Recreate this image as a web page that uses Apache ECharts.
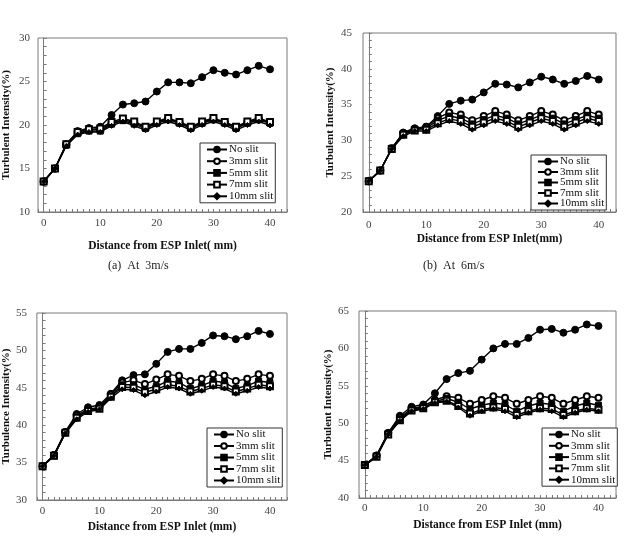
<!DOCTYPE html>
<html><head><meta charset="utf-8">
<script src="https://cdn.jsdelivr.net/npm/echarts@6/dist/echarts.min.js"></script>
<style>html,body{margin:0;padding:0;background:#fff}#c{width:625px;height:548px}</style>
</head><body><div id="c"></div>
<script>
// ---------- DATA ----------
const distance = [0,2,4,6,8,10,12,14,16,18,20,22,24,26,28,30,32,34,36,38,40];
const seriesNames = ['No slit','3mm slit','5mm slit','7mm slit','10mm slit'];
const xTickLabels = [0,10,20,30,40];

// (a) At 3 m/s
const a_noSlit = [13.5,15.0,17.8,19.3,19.65,19.8,21.15,22.35,22.5,22.7,23.85,24.9,24.9,24.8,25.5,26.3,26.0,25.8,26.3,26.8,26.4];
const a_slit3  = [13.5,15.0,17.7,19.1,19.4,19.5,20.2,20.6,20.3,19.7,20.3,20.7,20.3,19.7,20.3,20.7,20.3,19.7,20.3,20.7,20.3];
const a_slit5  = [13.5,15.0,17.7,19.0,19.3,19.3,20.1,20.5,20.1,19.6,20.2,20.6,20.2,19.6,20.2,20.6,20.2,19.6,20.2,20.6,20.2];
const a_slit7  = [13.5,15.0,17.8,19.2,19.5,19.6,20.35,20.75,20.4,19.8,20.4,20.8,20.35,19.8,20.4,20.8,20.35,19.8,20.4,20.8,20.35];
const a_slit10 = [13.5,15.0,17.6,18.9,19.2,19.2,19.9,20.4,19.9,19.4,20.0,20.4,20.0,19.4,20.0,20.4,20.0,19.4,20.0,20.4,19.95];

// (b) At 6 m/s
const b_noSlit = [24.3,25.8,28.85,31.1,31.7,31.9,33.4,35.1,35.55,35.7,36.7,37.9,37.8,37.4,38.1,38.9,38.5,37.9,38.3,39.0,38.5];
const b_slit3  = [24.3,25.8,28.9,31.0,31.6,31.9,33.1,33.9,33.6,32.8,33.4,34.1,33.6,32.8,33.4,34.1,33.6,32.8,33.4,34.1,33.6];
const b_slit5  = [24.3,25.8,28.9,30.9,31.5,31.7,32.8,33.4,33.1,32.3,32.9,33.5,33.1,32.3,32.9,33.5,33.1,32.3,32.9,33.5,33.1];
const b_slit7  = [24.3,25.8,28.8,30.8,31.4,31.5,32.4,33.0,32.7,31.9,32.5,33.1,32.7,31.9,32.5,33.1,32.7,31.9,32.5,33.1,32.7];
const b_slit10 = [24.3,25.8,28.8,30.6,31.3,31.3,32.1,32.7,32.3,31.5,32.1,32.7,32.3,31.5,32.1,32.7,32.3,31.5,32.1,32.7,32.3];

// (c)
const c_noSlit = [34.5,36.0,39.1,41.5,42.4,42.7,44.2,46.0,46.7,46.8,48.2,49.8,50.2,50.2,51.0,52.0,51.9,51.5,51.9,52.6,52.2];
const c_slit3  = [34.5,36.0,39.1,41.3,42.1,42.4,44.1,45.7,46.0,45.5,46.1,46.8,46.6,45.9,46.2,46.8,46.6,45.9,46.2,46.8,46.6];
const c_slit5  = [34.5,35.9,39.0,41.1,42.0,42.3,43.9,45.4,45.4,44.8,45.2,45.9,45.7,44.9,45.3,45.9,45.7,44.9,45.3,45.9,45.7];
const c_slit7  = [34.5,35.9,39.0,41.0,41.9,42.2,43.8,45.1,45.0,44.4,44.8,45.4,45.2,44.5,44.9,45.4,45.2,44.5,44.9,45.4,45.2];
const c_slit10 = [34.5,35.9,38.9,40.8,41.8,42.1,43.6,44.8,44.7,44.0,44.5,45.1,44.9,44.2,44.6,45.1,44.9,44.2,44.6,45.1,44.9];

// (d)
const d_noSlit = [44.4,45.7,48.7,51.0,52.2,52.5,54.0,55.9,56.7,57.0,58.5,60.0,60.6,60.6,61.4,62.5,62.6,62.1,62.5,63.2,63.0];
const d_slit3  = [44.4,45.6,48.7,50.8,51.9,52.3,53.1,53.6,53.4,52.6,53.1,53.6,53.4,52.6,53.1,53.6,53.4,52.6,53.1,53.6,53.4];
const d_slit5  = [44.4,45.6,48.6,50.6,51.8,52.1,52.9,53.3,52.8,51.9,52.4,52.7,52.5,51.6,52.3,52.7,52.5,51.6,52.3,52.7,52.4];
const d_slit7  = [44.4,45.5,48.5,50.4,51.7,52.0,52.8,53.0,52.3,51.3,51.8,52.1,51.9,51.1,51.6,52.0,51.9,51.1,51.6,52.0,51.8];
const d_slit10 = [44.4,45.5,48.5,50.3,51.6,51.9,52.7,52.9,52.1,51.0,51.6,51.9,51.6,50.8,51.4,51.8,51.6,50.8,51.4,51.8,51.6];

const yMin = [10,20,30,40];
const yMax = [30,45,55,65];
const yTitles = ['Turbulent Intensity(%)','Turbulent Intensity(%)','Turbulence Intensity(%)','Turbulent Intensity(%)'];
const xTitles = ['Distance from ESP Inlet( mm)','Distance from ESP Inlet(mm)','Distance from ESP Inlet (mm)','Distance from ESP Inlet (mm)'];
const captions = ['(a)  At  3m/s','(b)  At  6m/s'];

// ---------- LAYOUT / STYLE ----------
const panelData = [
  [a_noSlit,a_slit3,a_slit5,a_slit7,a_slit10],
  [b_noSlit,b_slit3,b_slit5,b_slit7,b_slit10],
  [c_noSlit,c_slit3,c_slit5,c_slit7,c_slit10],
  [d_noSlit,d_slit3,d_slit5,d_slit7,d_slit10]
];
const grids = [
  {left:35, top:38, width:252, height:174},
  {left:363, top:33, width:253, height:179},
  {left:28, top:313, width:259, height:187},
  {left:359, top:311, width:257, height:187}
];
const legendPos = [
  {left:200, top:143, gap:0.7},
  {left:531, top:155, gap:-0.5},
  {left:207, top:428, gap:0.5},
  {left:542, top:428, gap:0.3}
];
const yNameGap = [26,27,22,25];
const xNameGap = [28,21,21,21];
const xLabelMargin = [6,8,6,5];
const yLabelMargin = [8,11,10,10];
const symbols = [
  {symbol:'circle', size:7},
  {symbol:'emptyCircle', size:6},
  {symbol:'rect', size:6},
  {symbol:'emptyRect', size:6},
  {symbol:'diamond', size:5}
];
const serif = 'Liberation Serif, Times New Roman, serif';
const axisGray = '#7a7a7a';

const option = {
  backgroundColor:'#fff',
  animation:false,
  title: captions.map((t,i)=>({
    text:t, left: i===0 ? 103 : 418, top:255,
    textStyle:{fontFamily:serif, fontSize:12, fontWeight:'normal', color:'#222'}
  })),
  grid: grids.map(g=>Object.assign({show:true, borderColor:axisGray, borderWidth:1, backgroundColor:'#fff'}, g)),
  xAxis: grids.map((g,i)=>({
    type:'value', gridIndex:i, min:-1, max:43, interval:1,
    name:xTitles[i], nameLocation:'middle', nameGap:xNameGap[i],
    nameTextStyle:{fontFamily:serif, fontSize:11.5, fontWeight:'bold', color:'#111'},
    axisLine:{show:true, lineStyle:{color:axisGray, width:1}},
    axisTick:{show:true, inside:true, length:3, lineStyle:{color:axisGray}},
    axisLabel:{margin:xLabelMargin[i], fontFamily:serif, fontSize:11, color:'#444',
      formatter:v=> xTickLabels.indexOf(v)>=0 ? String(v) : ''},
    splitLine:{show:false}
  })),
  yAxis: grids.map((g,i)=>({
    type:'value', gridIndex:i, min:yMin[i], max:yMax[i], interval:5,
    name:yTitles[i], nameLocation:'middle', nameGap:yNameGap[i],
    nameTextStyle:{fontFamily:serif, fontSize:11, fontWeight:'bold', color:'#111'},
    axisLine:{show:true, lineStyle:{color:axisGray, width:1}},
    axisTick:{show:true, inside:true, length:3, lineStyle:{color:axisGray}},
    minorTick:{show:true, splitNumber:5, length:3, lineStyle:{color:axisGray}},
    axisLabel:{margin:yLabelMargin[i], fontFamily:serif, fontSize:11, color:'#444'},
    splitLine:{show:false}
  })),
  legend: legendPos.map(p=>({
    left:p.left, top:p.top, orient:'vertical',
    data:seriesNames, itemWidth:20, itemHeight:7, itemGap:p.gap,
    padding:[1,2,1,6], borderColor:'#333', borderWidth:1, backgroundColor:'#fff',
    textStyle:{fontFamily:serif, fontSize:11, color:'#111', padding:[0,0,0,-3]},
    selectedMode:false
  })),
  series: []
};
panelData.forEach((arr,pi)=>{
  arr.forEach((vals,si)=>{
    const s = symbols[si];
    option.series.push({
      type:'line', name:seriesNames[si], xAxisIndex:pi, yAxisIndex:pi,
      data: distance.map((x,k)=>[x, vals[k]]),
      symbol:s.symbol, symbolSize:s.size, showSymbol:true,
      lineStyle:{color:'#000', width:1.4},
      itemStyle:{color:'#000', borderColor:'#000', borderWidth:1},
      z: 2 + si
    });
  });
});
const chart = echarts.init(document.getElementById('c'), null, {renderer:'canvas'});
chart.setOption(option);
</script>
</body></html>
